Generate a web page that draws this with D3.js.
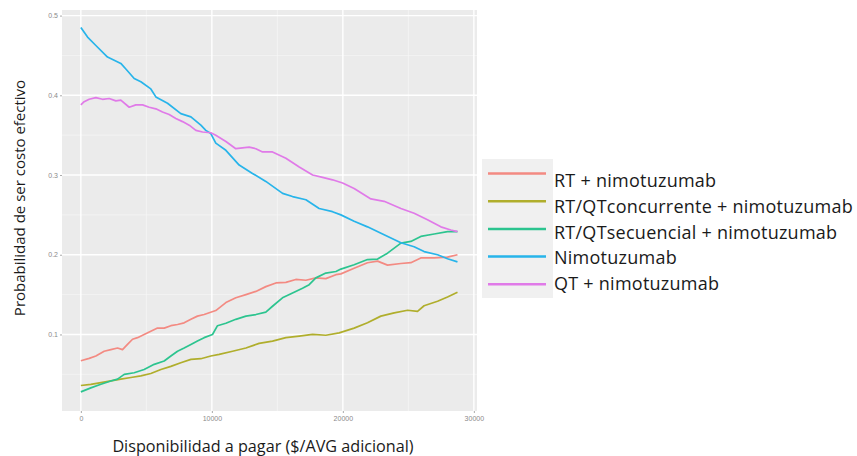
<!DOCTYPE html>
<html>
<head>
<meta charset="utf-8">
<script src="https://cdn.jsdelivr.net/npm/d3@7"></script>
<style>
  body { margin: 0; background: #fff; }
  svg { display: block; }
  .tick-label { font-family: "Liberation Sans", Arial, sans-serif; font-size: 7px; fill: #8a8a8a; }
  .axis-title { font-family: "Open Sans", sans-serif; font-size: 15px; fill: #1a1a1a; }
  .legend-label { font-family: "Open Sans", sans-serif; font-size: 18px; letter-spacing: 0.25px; fill: #1a1a1a; }
</style>
</head>
<body>
<div id="chart"></div>
<script>
/**
 * DATA
 * each series is a list of [willingness to pay, probability]
 **/
const seriesNames = [
  "RT + nimotuzumab",
  "RT/QTconcurrente + nimotuzumab",
  "RT/QTsecuencial + nimotuzumab",
  "Nimotuzumab",
  "QT + nimotuzumab"
];
const seriesColors = ["#f38a82", "#b0ae2c", "#2cc48f", "#27b4ea", "#e07ae8"];

const rtNimo = [[0,0.067],[635,0.07],[1145,0.073],[1780,0.079],[2290,0.081],[2800,0.083],[3180,0.081],[3560,0.0875],[3945,0.094],[4325,0.096],[4830,0.1],[5340,0.104],[5850,0.108],[6360,0.108],[6870,0.111],[7380,0.1125],[7885,0.1146],[8400,0.119],[8900,0.123],[9410,0.125],[10300,0.13],[11070,0.14],[11830,0.146],[12600,0.15],[13360,0.154],[14120,0.16],[14890,0.1646],[15650,0.1654],[16410,0.169],[17180,0.168],[17940,0.171],[18700,0.17],[19470,0.175],[19850,0.176],[20860,0.183],[21880,0.19],[22650,0.192],[23410,0.187],[24430,0.189],[25190,0.19],[25950,0.196],[26970,0.196],[27990,0.197],[28750,0.2]];
const rtQtConc = [[0,0.036],[760,0.0375],[1530,0.0396],[2290,0.0417],[3050,0.044],[3820,0.046],[4580,0.048],[5340,0.051],[6110,0.056],[6870,0.06],[7630,0.0646],[8400,0.0688],[9160,0.0696],[9920,0.073],[10560,0.075],[11580,0.079],[12600,0.083],[13610,0.0888],[14630,0.0917],[15650,0.096],[16670,0.098],[17690,0.1],[18700,0.099],[19720,0.102],[20860,0.108],[21880,0.1146],[22900,0.123],[23920,0.127],[24940,0.1304],[25700,0.129],[26200,0.136],[27230,0.1417],[27990,0.147],[28750,0.153]];
const rtQtSec = [[0,0.028],[760,0.033],[1530,0.0375],[2290,0.0417],[2800,0.044],[3310,0.05],[4070,0.052],[4830,0.056],[5600,0.0625],[6360,0.0667],[6870,0.073],[7380,0.079],[7885,0.083],[8400,0.0875],[8900,0.0917],[9410,0.096],[10050,0.1],[10430,0.111],[11070,0.114],[11830,0.119],[12600,0.123],[13360,0.125],[14120,0.128],[14630,0.1354],[15390,0.146],[16160,0.152],[16920,0.158],[17430,0.1625],[17940,0.171],[18700,0.177],[19470,0.179],[19850,0.182],[20860,0.1875],[21880,0.194],[22650,0.1946],[23410,0.202],[24430,0.2146],[25190,0.2167],[25950,0.223],[26970,0.226],[27990,0.229],[28750,0.229]];
const nimo = [[0,0.485],[510,0.473],[1145,0.4625],[2035,0.448],[3050,0.44],[3435,0.433],[4070,0.421],[4580,0.417],[5340,0.408],[5725,0.398],[6615,0.39],[7630,0.377],[8400,0.373],[9160,0.3625],[9540,0.356],[9920,0.352],[10300,0.34],[11070,0.331],[12085,0.3125],[13100,0.302],[14120,0.292],[15400,0.277],[16160,0.273],[17180,0.269],[18190,0.258],[19210,0.254],[19850,0.25],[20860,0.242],[21880,0.235],[23150,0.225],[24430,0.215],[25440,0.21],[26200,0.204],[27230,0.2],[27990,0.195],[28750,0.191]];
const qtNimo = [[0,0.388],[250,0.392],[635,0.395],[1145,0.397],[1655,0.395],[2160,0.396],[2670,0.393],[3050,0.394],[3690,0.385],[4200,0.388],[4710,0.388],[5215,0.385],[5725,0.383],[6235,0.379],[6740,0.376],[7250,0.371],[7760,0.367],[8270,0.3625],[8780,0.356],[9290,0.354],[9920,0.353],[10300,0.35],[11070,0.342],[11830,0.333],[12850,0.335],[13360,0.333],[13870,0.329],[14630,0.329],[15650,0.321],[16670,0.31],[17690,0.3],[18450,0.297],[19210,0.294],[19980,0.29],[20860,0.283],[22140,0.27],[23150,0.267],[24430,0.258],[25440,0.252],[26460,0.244],[27480,0.235],[28240,0.231],[28750,0.229]];

const xTicks = [0, 10000, 20000, 30000];
const xMinor = [5000, 15000, 25000];
const yTicks = [0.1, 0.2, 0.3, 0.4, 0.5];
const yMinor = [0.05, 0.15, 0.25, 0.35, 0.45];

/**
 * CONSTANTS
 **/
const width = 857, height = 456;
const panel = { left: 62, right: 477, top: 10, bottom: 411 };

const svg = d3.select("#chart").append("svg")
  .attr("width", width)
  .attr("height", height);

//Scales (ggplot-like 5% expansion)
const xScale = d3.scaleLinear().domain([-1440, 30240]).range([panel.left, panel.right]);
const yScale = d3.scaleLinear().domain([0.004, 0.507]).range([panel.bottom, panel.top]);

//panel background
svg.append("rect")
  .attr("x", panel.left).attr("y", panel.top)
  .attr("width", panel.right - panel.left)
  .attr("height", panel.bottom - panel.top)
  .attr("fill", "#ebebeb");

//grid
const grid = svg.append("g");
grid.selectAll("line.ymin").data(yMinor).join("line")
  .attr("x1", panel.left).attr("x2", panel.right)
  .attr("y1", d => yScale(d)).attr("y2", d => yScale(d))
  .attr("stroke", "#f6f6f6").attr("stroke-width", 0.7);
grid.selectAll("line.xmin").data(xMinor).join("line")
  .attr("y1", panel.top).attr("y2", panel.bottom)
  .attr("x1", d => xScale(d)).attr("x2", d => xScale(d))
  .attr("stroke", "#f6f6f6").attr("stroke-width", 0.7);
grid.selectAll("line.ymaj").data(yTicks).join("line")
  .attr("x1", panel.left).attr("x2", panel.right)
  .attr("y1", d => yScale(d)).attr("y2", d => yScale(d))
  .attr("stroke", "#fff").attr("stroke-width", 1.4);
grid.selectAll("line.xmaj").data(xTicks).join("line")
  .attr("y1", panel.top).attr("y2", panel.bottom)
  .attr("x1", d => xScale(d)).attr("x2", d => xScale(d))
  .attr("stroke", "#fff").attr("stroke-width", 1.4);

//axes
const xAxis = d3.axisBottom(xScale).tickValues(xTicks).tickSize(2).tickPadding(3).tickFormat(d3.format("d"));
const yAxis = d3.axisLeft(yScale).tickValues(yTicks).tickSize(2).tickPadding(2).tickFormat(d3.format(".1f"));

svg.append("g")
  .attr("transform", `translate(0, ${panel.bottom})`)
  .call(xAxis)
  .call(g => g.select(".domain").remove())
  .call(g => g.selectAll("line").attr("stroke", "#aaa"))
  .call(g => g.selectAll("text").attr("class", "tick-label").attr("fill", null));

svg.append("g")
  .attr("transform", `translate(${panel.left}, 0)`)
  .call(yAxis)
  .call(g => g.select(".domain").remove())
  .call(g => g.selectAll("line").attr("stroke", "#aaa"))
  .call(g => g.selectAll("text").attr("class", "tick-label").attr("fill", null));

//axis titles
svg.append("text")
  .attr("class", "axis-title")
  .attr("x", 263).attr("y", 452)
  .attr("text-anchor", "middle")
  .style("font-size", "16.2px")
  .text("Disponibilidad a pagar ($/AVG adicional)");

svg.append("text")
  .attr("class", "axis-title")
  .attr("transform", "translate(25, 198) rotate(-90)")
  .attr("text-anchor", "middle")
  .text("Probabilidad de ser costo efectivo");

//lines
const allSeries = [rtNimo, rtQtConc, rtQtSec, nimo, qtNimo];
const lineFunc = d3.line()
  .x(d => xScale(d[0]))
  .y(d => yScale(d[1]));

svg.selectAll("path.trend")
  .data(allSeries)
  .join("path")
  .attr("class", "trend")
  .attr("fill", "none")
  .attr("stroke", (d, i) => seriesColors[i])
  .attr("stroke-width", 1.7)
  .attr("stroke-linejoin", "round")
  .attr("d", lineFunc);

//legend
const legend = svg.append("g");
legend.append("rect")
  .attr("x", 482).attr("y", 159)
  .attr("width", 71).attr("height", 139)
  .attr("fill", "#f0f0f0");

legend.selectAll("line")
  .data(seriesNames)
  .join("line")
  .attr("x1", 488).attr("x2", 546)
  .attr("y1", (d, i) => 173.5 + i * 27.7)
  .attr("y2", (d, i) => 173.5 + i * 27.7)
  .attr("stroke", (d, i) => seriesColors[i])
  .attr("stroke-width", 2.5);

legend.selectAll("text")
  .data(seriesNames)
  .join("text")
  .attr("class", "legend-label")
  .attr("x", 554)
  .attr("y", (d, i) => 181 + i * 25.7)
  .attr("dy", "0.35em")
  .text(d => d);
</script>
</body>
</html>
